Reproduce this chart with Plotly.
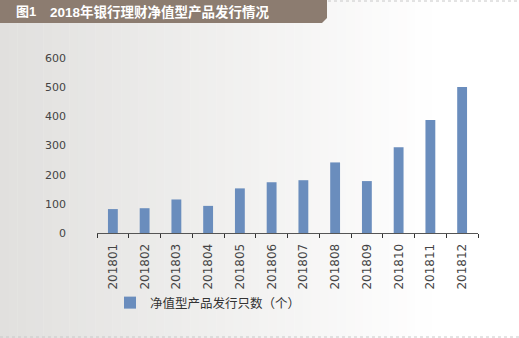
import plotly.graph_objects as go

months = ["201801", "201802", "201803", "201804", "201805", "201806",
          "201807", "201808", "201809", "201810", "201811", "201812"]
counts = [82, 85, 115, 93, 153, 174, 181, 242, 178, 294, 387, 501]
series_name = "净值型产品发行只数（个）"
title_num = "图1"
title_text = "2018年银行理财净值型产品发行情况"
y_ticks = [0, 100, 200, 300, 400, 500, 600]

W, H = 519, 338
FONT = "Liberation Sans, Noto Sans CJK SC, sans-serif"
TICKFONT = "DejaVu Sans, Noto Sans CJK SC, sans-serif"

fig = go.Figure()
fig.add_trace(go.Bar(
    x=months, y=counts, name=series_name,
    marker=dict(color="#6a8dbd", line=dict(width=0)),
))

# pixel -> paper conversion (plot area 97..478 x, 58..233 y)
def px(x):
    return (x - 97) / 381

def py(y):
    return (233 - y) / 175

# background horizontal gradient
shapes = []
n = 60
c0 = (225, 224, 222)
c1 = (255, 255, 255)
for i in range(n):
    t = i / (n - 1)
    tt = min(1.0, t / 0.85)
    col = tuple(int(round(c0[k] + (c1[k] - c0[k]) * tt)) for k in range(3))
    shapes.append(dict(type="rect", xref="paper", yref="paper", layer="below",
                       x0=px(i * W / n), x1=px((i + 1.05) * W / n),
                       y0=-2, y1=2, line=dict(width=0),
                       fillcolor="rgb(%d,%d,%d)" % col))

band_path = "M {} {} L {} {} L {} {} L {} {} L {} {} Z".format(
    px(0), py(0), px(327), py(0), px(327), py(18), px(322), py(23), px(0), py(23))
shapes.append(dict(type="path", xref="paper", yref="paper", path=band_path,
                   fillcolor="#8c7c70", line=dict(width=0), layer="below"))
shapes.append(dict(type="line", xref="paper", yref="paper",
                   x0=px(328), x1=px(519), y0=py(1), y1=py(1),
                   line=dict(color="#c8c8c8", width=1, dash="dot")))
shapes.append(dict(type="line", xref="paper", yref="paper",
                   x0=px(0), x1=px(519), y0=py(337), y1=py(337),
                   line=dict(color="#c8c8c8", width=1, dash="dot")))

annotations = [
    dict(text="<b>" + title_num + "</b>", xref="paper", yref="paper", x=px(14), y=py(12),
         xanchor="left", yanchor="middle", showarrow=False,
         font=dict(family=FONT, size=13, color="white")),
    dict(text="<b>" + title_text + "</b>", xref="paper", yref="paper", x=px(48), y=py(12),
         xanchor="left", yanchor="middle", showarrow=False,
         font=dict(family=FONT, size=13.5, color="white")),
]

fig.update_layout(
    width=W, height=H,
    margin=dict(l=97, r=41, t=58, b=105),
    paper_bgcolor="rgba(0,0,0,0)",
    plot_bgcolor="rgba(0,0,0,0)",
    bargap=0.69,
    shapes=shapes,
    annotations=annotations,
    font=dict(family=FONT, size=11, color="#333333"),
    showlegend=True,
    legend=dict(x=px(110), y=py(303), xanchor="left", yanchor="middle",
                orientation="h", bgcolor="rgba(0,0,0,0)",
                font=dict(family=FONT, size=12.5, color="#333333"),
                itemwidth=30),
    xaxis=dict(
        type="category", tickangle=-90,
        showline=True, linecolor="#555555", linewidth=1,
        ticks="outside", tickson="boundaries", ticklen=4, tickcolor="#333333",
        showgrid=False, ticklabelstandoff=5,
        tickfont=dict(family=TICKFONT, size=12, color="#444444"),
    ),
    yaxis=dict(
        range=[0, 600], tickvals=y_ticks, showgrid=False, zeroline=False,
        showline=False, ticks="", ticklabelstandoff=30,
        tickfont=dict(family=TICKFONT, size=11, color="#444444"),
    ),
)

fig.write_html("out.html")
